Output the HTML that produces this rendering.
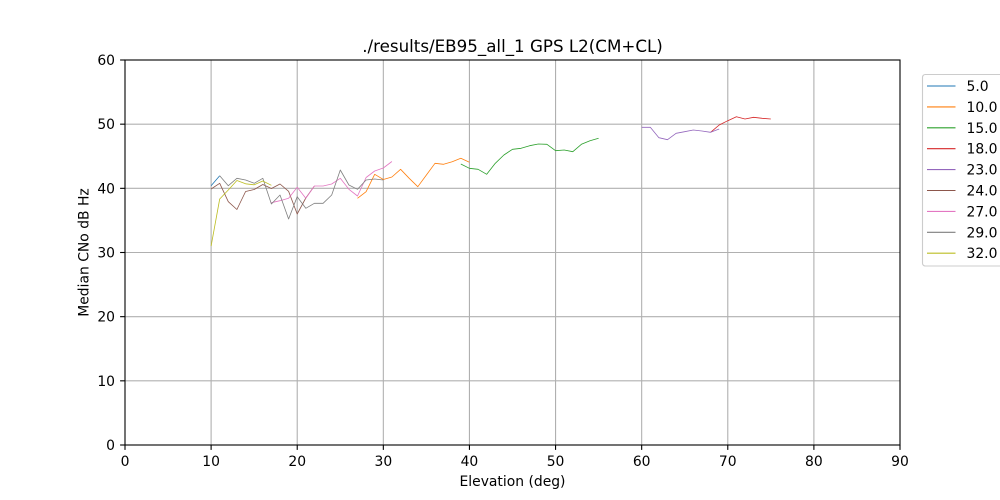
<!DOCTYPE html>
<html>
<head>
<meta charset="utf-8">
<style>
  html, body { margin: 0; padding: 0; background: #ffffff; }
  svg { display: block; font-family: "DejaVu Sans", "Liberation Sans", sans-serif; }
</style>
</head>
<body>
<svg width="1000" height="500" viewBox="0 0 1000 500" xmlns="http://www.w3.org/2000/svg">
  <rect x="0" y="0" width="1000" height="500" fill="#ffffff"/>
  <rect x="125" y="60" width="775" height="385" fill="#ffffff"/>

  <!-- grid -->
  <g stroke="#b0b0b0" stroke-width="1.1" fill="none">
    <line x1="211.11" y1="60" x2="211.11" y2="445"/>
    <line x1="297.22" y1="60" x2="297.22" y2="445"/>
    <line x1="383.33" y1="60" x2="383.33" y2="445"/>
    <line x1="469.44" y1="60" x2="469.44" y2="445"/>
    <line x1="555.56" y1="60" x2="555.56" y2="445"/>
    <line x1="641.67" y1="60" x2="641.67" y2="445"/>
    <line x1="727.78" y1="60" x2="727.78" y2="445"/>
    <line x1="813.89" y1="60" x2="813.89" y2="445"/>
    <line x1="125" y1="380.83" x2="900" y2="380.83"/>
    <line x1="125" y1="316.67" x2="900" y2="316.67"/>
    <line x1="125" y1="252.5" x2="900" y2="252.5"/>
    <line x1="125" y1="188.33" x2="900" y2="188.33"/>
    <line x1="125" y1="124.17" x2="900" y2="124.17"/>
  </g>

  <!-- series -->
  <g fill="none" stroke-width="0.8" stroke-linejoin="round">
    <!-- 5.0 -->
    <polyline stroke="#1f77b4" points="211.1,185.7 219.7,175.7"/>
    <!-- 10.0 -->
    <polyline stroke="#ff7f0e" points="357.5,198.3 366.1,191.7 374.7,174.3 383.3,179.5 391.9,177 400.6,169.3 409.2,178.3 417.8,186.7 426.4,175 435,163.3 443.6,164.3 452.2,161.7 460.8,158.3 469.4,162.3"/>
    <!-- 15.0 -->
    <polyline stroke="#2ca02c" points="460.8,164 469.4,168.3 478.1,169.3 486.7,174.3 495.3,163.3 503.9,155 512.5,149.3 521.1,148.3 529.7,145.7 538.3,144 546.9,144.3 555.6,150.7 564.2,150 572.8,151.7 581.4,144.3 590,140.7 598.6,138.3"/>
    <!-- 18.0 -->
    <polyline stroke="#d62728" points="710.6,132.3 719.2,125 727.8,120.7 736.4,116.7 745,119 753.6,117.3 762.2,118.3 770.8,119"/>
    <!-- 23.0 -->
    <polyline stroke="#9467bd" points="641.7,127.3 650.3,127.3 658.9,137.7 667.5,139.7 676.1,133.3 684.7,131.7 693.3,130 701.9,131 710.6,132.3 719.2,129"/>
    <!-- 24.0 -->
    <polyline stroke="#8c564b" points="211.1,189 219.7,183.3 228.3,201.7 236.9,209.5 245.6,191.5 254.2,189.5 262.8,184.5 271.4,188.5 280,184 288.6,191.3 297.2,214 305.8,198 314.4,186"/>
    <!-- 27.0 -->
    <polyline stroke="#e377c2" points="271.4,202.7 280,200.7 288.6,198.3 297.2,187.3 305.8,198.3 314.4,186 323.1,186 331.7,184 340.3,178.3 348.9,189.3 357.5,196 366.1,177.5 374.7,171 383.3,168 391.9,161.5"/>
    <!-- 29.0 -->
    <polyline stroke="#7f7f7f" points="219.7,175.7 228.3,185.7 236.9,178.3 245.6,180 254.2,183.3 262.8,178.3 271.4,204 280,195 288.6,219 297.2,196.7 305.8,208.3 314.4,203.3 323.1,203.3 331.7,195 340.3,170 348.9,185 357.5,189.3 366.1,180 374.7,179 383.3,180"/>
    <!-- 32.0 -->
    <polyline stroke="#bcbd22" points="211.1,246 219.7,199 228.3,190 236.9,180.5 245.6,183.8 254.2,184.8 262.8,181 271.4,185.3"/>
  </g>

  <!-- spines -->
  <rect x="125" y="60" width="775" height="385" fill="none" stroke="#000000" stroke-width="1.1"/>

  <!-- ticks -->
  <g stroke="#000000" stroke-width="1.1">
    <line x1="125" y1="445" x2="125" y2="449.9"/>
    <line x1="211.11" y1="445" x2="211.11" y2="449.9"/>
    <line x1="297.22" y1="445" x2="297.22" y2="449.9"/>
    <line x1="383.33" y1="445" x2="383.33" y2="449.9"/>
    <line x1="469.44" y1="445" x2="469.44" y2="449.9"/>
    <line x1="555.56" y1="445" x2="555.56" y2="449.9"/>
    <line x1="641.67" y1="445" x2="641.67" y2="449.9"/>
    <line x1="727.78" y1="445" x2="727.78" y2="449.9"/>
    <line x1="813.89" y1="445" x2="813.89" y2="449.9"/>
    <line x1="900" y1="445" x2="900" y2="449.9"/>
    <line x1="120.1" y1="445" x2="125" y2="445"/>
    <line x1="120.1" y1="380.83" x2="125" y2="380.83"/>
    <line x1="120.1" y1="316.67" x2="125" y2="316.67"/>
    <line x1="120.1" y1="252.5" x2="125" y2="252.5"/>
    <line x1="120.1" y1="188.33" x2="125" y2="188.33"/>
    <line x1="120.1" y1="124.17" x2="125" y2="124.17"/>
    <line x1="120.1" y1="60" x2="125" y2="60"/>
  </g>

  <!-- tick labels -->
  <g font-size="13.9" fill="#000000" text-anchor="middle">
    <text x="125" y="466">0</text>
    <text x="211.11" y="466">10</text>
    <text x="297.22" y="466">20</text>
    <text x="383.33" y="466">30</text>
    <text x="469.44" y="466">40</text>
    <text x="555.56" y="466">50</text>
    <text x="641.67" y="466">60</text>
    <text x="727.78" y="466">70</text>
    <text x="813.89" y="466">80</text>
    <text x="900" y="466">90</text>
  </g>
  <g font-size="13.9" fill="#000000" text-anchor="end">
    <text x="115" y="450">0</text>
    <text x="115" y="385.8">10</text>
    <text x="115" y="321.7">20</text>
    <text x="115" y="257.5">30</text>
    <text x="115" y="193.3">40</text>
    <text x="115" y="129.2">50</text>
    <text x="115" y="65">60</text>
  </g>

  <!-- axis labels and title -->
  <text x="512.5" y="486" font-size="13.9" text-anchor="middle" fill="#000000">Elevation (deg)</text>
  <text transform="translate(88.5,252.5) rotate(-90)" x="0" y="0" font-size="13.9" text-anchor="middle" fill="#000000">Median CNo dB Hz</text>
  <text x="512.5" y="52" font-size="16.7" text-anchor="middle" fill="#000000">./results/EB95_all_1 GPS L2(CM+CL)</text>

  <!-- legend -->
  <rect x="922.5" y="74.5" width="100" height="191.5" rx="2.8" ry="2.8" fill="#ffffff" fill-opacity="0.8" stroke="#cccccc" stroke-width="1.1"/>
  <g stroke-width="1.1">
    <line x1="927" y1="86" x2="955.5" y2="86" stroke="#1f77b4"/>
    <line x1="927" y1="106.9" x2="955.5" y2="106.9" stroke="#ff7f0e"/>
    <line x1="927" y1="127.8" x2="955.5" y2="127.8" stroke="#2ca02c"/>
    <line x1="927" y1="148.7" x2="955.5" y2="148.7" stroke="#d62728"/>
    <line x1="927" y1="169.6" x2="955.5" y2="169.6" stroke="#9467bd"/>
    <line x1="927" y1="190.5" x2="955.5" y2="190.5" stroke="#8c564b"/>
    <line x1="927" y1="211.4" x2="955.5" y2="211.4" stroke="#e377c2"/>
    <line x1="927" y1="232.3" x2="955.5" y2="232.3" stroke="#7f7f7f"/>
    <line x1="927" y1="253.2" x2="955.5" y2="253.2" stroke="#bcbd22"/>
  </g>
  <g font-size="13.9" fill="#000000">
    <text x="966.5" y="91">5.0</text>
    <text x="966.5" y="111.9">10.0</text>
    <text x="966.5" y="132.8">15.0</text>
    <text x="966.5" y="153.7">18.0</text>
    <text x="966.5" y="174.6">23.0</text>
    <text x="966.5" y="195.5">24.0</text>
    <text x="966.5" y="216.4">27.0</text>
    <text x="966.5" y="237.3">29.0</text>
    <text x="966.5" y="258.2">32.0</text>
  </g>
</svg>
</body>
</html>
